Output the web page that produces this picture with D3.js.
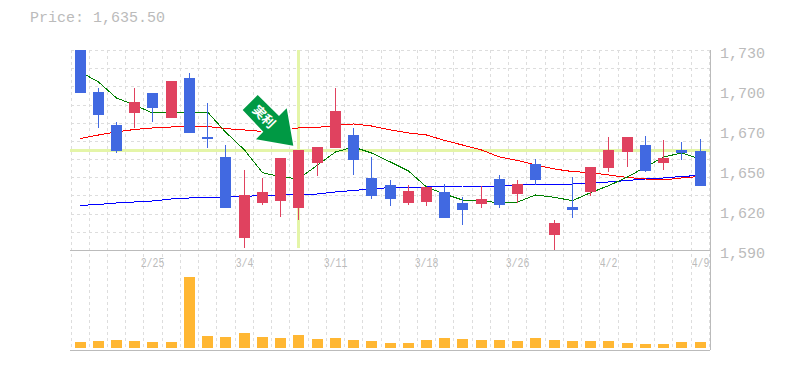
<!DOCTYPE html>
<html>
<head>
<meta charset="utf-8">
<script src="https://cdnjs.cloudflare.com/ajax/libs/d3/7.8.5/d3.min.js"></script>
<style>
  html, body { margin: 0; padding: 0; background: #fff; }
  svg { display: block; }
  text { font-family: "Liberation Mono", monospace; fill: #bbb; }
</style>
</head>
<body>
<div id="chart"></div>
<script>
const dates = ['2/19','2/20','2/21','2/22','2/25','2/26','2/27','2/28','3/1','3/4','3/5','3/6','3/7','3/8','3/11','3/12','3/13','3/14','3/15','3/18','3/19','3/20','3/22','3/25','3/26','3/27','3/28','3/29','4/1','4/2','4/3','4/4','4/5','4/8','4/9'];
const shownDates = ['2/25','3/4','3/11','3/18','3/26','4/2','4/9'];

const opens = [1730,1700.6,1677.5,1685.9,1699.9,1682.4,1710.4,1669.1,1655.1,1598.4,1622.9,1624.3,1619.4,1650.9,1661.4,1670.5,1640.4,1635.5,1622.9,1623.6,1630.6,1622.9,1622.2,1639.7,1629.2,1650.2,1600.5,1620.1,1630.6,1647.4,1658.6,1663.5,1650.9,1660,1659.3];
const closes = [1699.9,1684.5,1659.3,1693.6,1689.4,1708.3,1671.9,1667.7,1619.4,1628.5,1630.6,1654.4,1660,1662.1,1687.3,1653,1627.8,1625.7,1631.3,1634.1,1612.4,1618,1625.7,1621.5,1636.2,1639,1608.9,1618,1648.1,1660,1669.1,1645.3,1654.4,1657.9,1634.8];
const highs = [1730,1703.4,1679.6,1703.4,1699.9,1708.3,1713.9,1692.9,1663.5,1646,1640.4,1654.4,1660,1662.1,1703.4,1675.4,1655.1,1639,1635.5,1634.1,1636.2,1627.1,1634.8,1642.5,1639,1653.7,1611,1641.1,1648.1,1669.1,1669.1,1669.8,1667,1665.6,1667.7];
const lows = [1699.9,1675.4,1658.1,1675.4,1679.6,1682.4,1671.9,1661.4,1619.4,1591.4,1621.5,1613.1,1611,1641.8,1661.4,1642.5,1625.7,1620.8,1621.5,1620.8,1612.4,1607.5,1619.4,1619.4,1622.9,1635.5,1589.3,1612.4,1627.8,1644.6,1648.1,1644.6,1646,1653,1634.8];
const volume = [6,7,8,7,6,6,71,12,11,15,11,10,13,9,10,8,7,5,5,8,10,9,8,8,7,10,8,7,7,7,5,4,4,6,6];

const maShort = [1714.6,1707.6,1696.4,1691.5,1685.9,1686.6,1685.6,1686.6,1672.6,1660,1644.1,1641.3,1639.7,1649.5,1658.6,1662.1,1657.9,1651.6,1645.3,1634.1,1629.2,1625,1624.3,1623.1,1623.6,1628.5,1626.9,1624.5,1630.1,1635,1641.1,1648.1,1655.1,1657.9,1653.7];
const maMid = [1668,1670.5,1672.6,1674.4,1675.4,1676.1,1676.8,1676.5,1675,1674,1673,1673.3,1675.4,1675.8,1677.2,1678.2,1676.8,1674,1671.9,1670.5,1666.7,1663.5,1660,1655.1,1652.7,1649.5,1646.7,1644.9,1644.2,1642.5,1640.8,1639.7,1639,1640.4,1641.6];
const maLong = [1621.2,1621.9,1622.9,1623.6,1624.3,1625.7,1626.4,1626.8,1627.1,1627.5,1628.2,1628.5,1628.9,1629.2,1630.6,1631.7,1632.7,1633.8,1634.1,1634.1,1634.5,1634.8,1634.8,1634.8,1635.5,1636.2,1636.2,1636.2,1636.9,1637.6,1638.7,1639.7,1640.4,1641.5,1642.2];

const priceTicks = [1730,1700,1670,1650,1620,1590];
const currentPrice = '1,635.50';
const signalIndex = 12;
const signalPrice = 1660;

const width = 785, height = 370;
const plotLeft = 71.4, plotRight = 709.6, plotTop = 50, priceBottom = 250, volBottom = 350;
const barW = 11;

const svg = d3.select('#chart').append('svg').attr('width', width).attr('height', height);

const x = d3.scaleBand().domain(d3.range(dates.length)).range([plotLeft, plotRight]);
const y = d3.scaleLinear().domain([1590, 1730]).range([priceBottom, plotTop]);
const yVol = d3.scaleLinear().domain([0, 71]).range([348, 277]);
// body left edge, wick and grid all hang off the same pixel
const barLeft = i => Math.floor(x(i) + 3.65);
const cx = i => barLeft(i) + 5.5;

svg.append('text').attr('x', 30).attr('y', 22).attr('font-size', 15).text('Price: ' + currentPrice);

// dashed grid, one vertical per candle boundary, 11 horizontal rows in the price panel
const grid = svg.append('g').attr('stroke', '#ddd').attr('stroke-dasharray', '3,3').attr('shape-rendering', 'crispEdges');
d3.range(dates.length).forEach(i => {
  const gx = barLeft(i) - 4 + 0.5;
  grid.append('line').attr('x1', gx).attr('x2', gx).attr('y1', plotTop).attr('y2', volBottom);
});
grid.append('line').attr('x1', 709.5).attr('x2', 709.5).attr('y1', plotTop).attr('y2', volBottom);
d3.range(11).forEach(i => {
  const gy = Math.round(plotTop + i * (priceBottom - plotTop) / 11) + 0.5;
  grid.append('line').attr('x1', plotLeft).attr('x2', plotRight).attr('y1', gy).attr('y2', gy);
});

// crosshair on the signal candle
const cross = svg.append('g').attr('stroke', '#e4f5a8').attr('shape-rendering', 'crispEdges');
cross.append('line').attr('x1', 70).attr('x2', 710).attr('y1', y(signalPrice)).attr('y2', y(signalPrice)).attr('stroke-width', 3);
cross.append('line').attr('x1', cx(signalIndex)).attr('x2', cx(signalIndex)).attr('y1', plotTop).attr('y2', 248).attr('stroke-width', 3);

// moving averages
const line = d3.line().x((d, i) => cx(i)).y(d => y(d));
[[maLong, '#0000ff'], [maMid, '#ff0000'], [maShort, '#008000']].forEach(([s, c]) => {
  svg.append('path').datum(s).attr('d', line).attr('fill', 'none').attr('stroke', c).attr('stroke-width', 1).attr('shape-rendering', 'crispEdges');
});

// arrow with a white halo, anchored by its tip next to the signal candle
const tipX = cx(signalIndex) - 5.2, tipY = y(signalPrice) - 4.3;
const arrowPts = [[-35.6,-50.7],[-50.6,-35.7],[-30,-14],[-37.3,-6.4],[0,0],[-6.6,-37.4],[-14.3,-29.7]];
const arrow = svg.append('g').attr('transform', `translate(${tipX},${tipY})`);
arrow.append('polygon').attr('points', arrowPts.join(' ')).attr('fill', '#009944').attr('stroke', '#fff').attr('stroke-width', 3).attr('paint-order', 'stroke').attr('stroke-linejoin', 'round');
arrow.append('text').attr('transform', 'translate(-29.5,-29) rotate(45)').attr('text-anchor', 'middle').attr('dy', '0.35em')
  .attr('font-size', 13).attr('font-weight', 'bold').style('fill', '#fff').style('font-family', '"Noto Sans CJK JP"').text('実利');

// candles
const candles = svg.append('g').attr('shape-rendering', 'crispEdges');
const color = i => closes[i] >= opens[i] ? '#e0425f' : '#4169e1';
dates.forEach((d, i) => {
  candles.append('line').attr('x1', cx(i)).attr('x2', cx(i)).attr('y1', y(highs[i])).attr('y2', y(lows[i])).attr('stroke', color(i));
  const yT = y(Math.max(opens[i], closes[i])), yB = y(Math.min(opens[i], closes[i]));
  candles.append('rect').attr('x', barLeft(i)).attr('width', barW).attr('y', yT).attr('height', Math.max(yB - yT, 1)).attr('fill', color(i));
});

// volume
svg.append('g').attr('shape-rendering', 'crispEdges').selectAll('rect').data(volume).join('rect')
  .attr('x', (d, i) => barLeft(i)).attr('width', barW)
  .attr('y', d => yVol(d)).attr('height', d => yVol(0) - yVol(d)).attr('fill', '#ffb733');

// panel frame
const frame = svg.append('g').attr('stroke', '#bbb').attr('stroke-width', 1).attr('shape-rendering', 'crispEdges');
frame.append('line').attr('x1', 70).attr('x2', 710).attr('y1', priceBottom).attr('y2', priceBottom);
frame.append('line').attr('x1', 70).attr('x2', 710).attr('y1', volBottom).attr('y2', volBottom);
frame.append('line').attr('x1', 710).attr('x2', 710).attr('y1', plotTop).attr('y2', volBottom);

// axis labels
const labelY = d3.scaleLinear().domain([0, priceTicks.length - 1]).range([58, 258]);
svg.append('g').selectAll('text').data(priceTicks).join('text')
  .attr('x', 720).attr('y', (d, i) => labelY(i)).attr('font-size', 15).text(d => d3.format(',')(d));

svg.append('g').selectAll('text').data(shownDates).join('text')
  .attr('x', d => cx(dates.indexOf(d))).attr('y', 267).attr('text-anchor', 'middle')
  .attr('font-size', 12).attr('textLength', d => d.length * 5.9).attr('lengthAdjust', 'spacingAndGlyphs').text(d => d);
</script>
</body>
</html>
